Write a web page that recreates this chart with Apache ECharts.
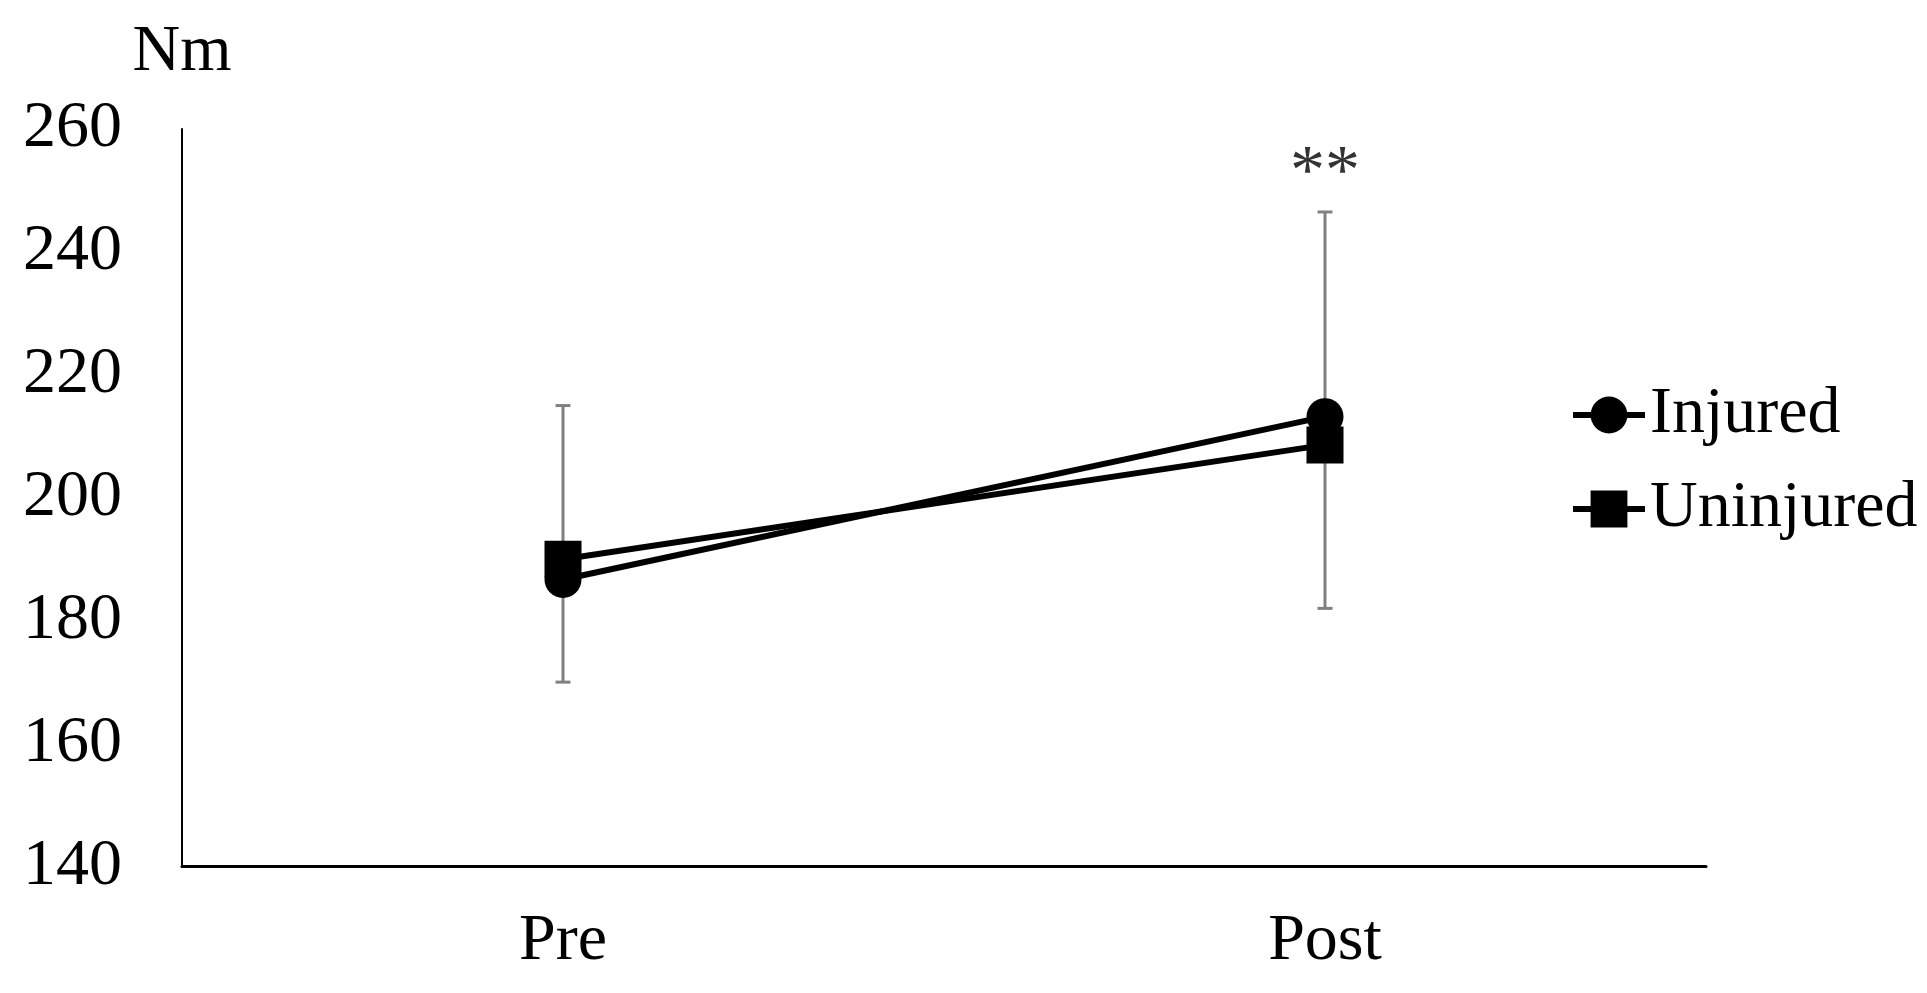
<!DOCTYPE html>
<html>
<head>
<meta charset="utf-8">
<script src="https://cdn.jsdelivr.net/npm/echarts@6/dist/echarts.min.js"></script>
<style>
html,body{margin:0;padding:0;background:#fff;}
#chart{width:1927px;height:993px;}
</style>
</head>
<body>
<div id="chart"></div>
<script>
const categories = ['Pre', 'Post'];
const injured = [186.7, 213.2];
const uninjured = [190.0, 208.6];
const errLow = [170, 182];
const errHigh = [215, 246.5];
const yTicks = [140, 160, 180, 200, 220, 240, 260];
const sigLabel = '**';
const sigCategory = 'Post';
const sigValue = 252.5;

const FONT = "'Liberation Serif', 'Times New Roman', serif";

const chart = echarts.init(document.getElementById('chart'), null, {renderer: 'canvas'});
const option = {
  animation: false,
  backgroundColor: '#fff',
  textStyle: {fontFamily: FONT, color: '#000'},
  grid: {left: 182, right: 221, top: 129, bottom: 126.5, containLabel: false},
  legend: {
    orient: 'vertical',
    left: 1565,
    top: 377,
    itemWidth: 72,
    itemHeight: 46,
    itemGap: 28,
    data: ['Injured', 'Uninjured'],
    lineStyle: {width: 6},
    textStyle: {fontFamily: FONT, fontSize: 66, color: '#000'}
  },
  xAxis: {
    type: 'category',
    data: categories,
    boundaryGap: true,
    axisLine: {lineStyle: {color: '#000', width: 3}},
    axisTick: {show: false},
    axisLabel: {fontFamily: FONT, fontSize: 66, color: '#000', margin: 42}
  },
  yAxis: {
    type: 'value',
    min: yTicks[0],
    max: yTicks[yTicks.length - 1],
    interval: 20,
    name: 'Nm',
    nameLocation: 'end',
    nameGap: 43,
    nameTextStyle: {fontFamily: FONT, fontSize: 66, color: '#000', verticalAlign: 'bottom', align: 'center'},
    axisLine: {show: true, lineStyle: {color: '#000', width: 2}},
    axisTick: {show: false},
    splitLine: {show: false},
    axisLabel: {fontFamily: FONT, fontSize: 66, color: '#000', margin: 60}
  },
  series: [
    {
      name: 'error',
      type: 'custom',
      z: 1,
      data: categories.map((c, i) => [i, errLow[i], errHigh[i]]),
      renderItem: function (params, api) {
        const x = api.value(0);
        const lo = api.coord([x, api.value(1)]);
        const hi = api.coord([x, api.value(2)]);
        const cap = 7.5;
        const st = {stroke: '#808080', lineWidth: 3};
        return {
          type: 'group',
          children: [
            {type: 'line', shape: {x1: lo[0], y1: lo[1], x2: hi[0], y2: hi[1]}, style: st},
            {type: 'line', shape: {x1: lo[0] - cap, y1: lo[1], x2: lo[0] + cap, y2: lo[1]}, style: st},
            {type: 'line', shape: {x1: hi[0] - cap, y1: hi[1], x2: hi[0] + cap, y2: hi[1]}, style: st}
          ]
        };
      }
    },
    {
      name: 'Injured',
      type: 'line',
      z: 3,
      data: injured,
      symbol: 'circle',
      symbolSize: 37,
      lineStyle: {color: '#000', width: 6},
      itemStyle: {color: '#000'}
    },
    {
      name: 'Uninjured',
      type: 'line',
      z: 4,
      data: uninjured,
      symbol: 'rect',
      symbolSize: 37,
      lineStyle: {color: '#000', width: 6},
      itemStyle: {color: '#000'}
    },
    {
      name: 'sig',
      type: 'scatter',
      z: 5,
      symbolSize: 1,
      itemStyle: {color: 'rgba(0,0,0,0)'},
      data: [[sigCategory, sigValue]],
      label: {show: true, position: 'inside', formatter: sigLabel, fontFamily: FONT, fontSize: 70, color: '#000'}
    }
  ]
};
chart.setOption(option);
</script>
</body>
</html>
